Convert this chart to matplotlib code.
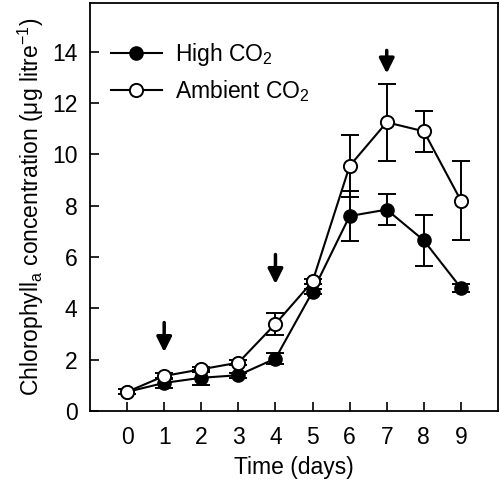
import matplotlib
matplotlib.use("Agg")
import matplotlib.pyplot as plt

plt.rcParams['font.family'] = ['Liberation Sans', 'DejaVu Sans']
plt.rcParams['mathtext.fontset'] = 'custom'
plt.rcParams['mathtext.rm'] = 'Liberation Sans'
plt.rcParams['mathtext.it'] = 'Liberation Sans'

days = [0, 1, 2, 3, 4, 5, 6, 7, 8, 9]
high_co2 = [0.75, 1.1, 1.3, 1.4, 2.05, 4.65, 7.6, 7.85, 6.65, 4.8]
high_err = [0.1, 0.2, 0.3, 0.1, 0.2, 0.1, 0.97, 0.6, 1.0, 0.15]
amb_co2 = [0.75, 1.37, 1.63, 1.89, 3.4, 5.05, 9.55, 11.25, 10.9, 8.2]
amb_err = [0.1, 0.1, 0.1, 0.1, 0.43, 0.1, 1.22, 1.5, 0.8, 1.55]
arrow_days = [1, 4, 7]
arrow_top = [3.45, 6.1, 14.05]
arrow_bottom = [2.3, 4.95, 13.15]

fig = plt.figure(figsize=(5.0, 4.86), dpi=100)
ax = fig.add_axes([0.18, 0.154, 0.816, 0.84])

ax.errorbar(days, high_co2, yerr=high_err, fmt='o-', color='black', mfc='black',
            mec='black', ms=9.5, lw=1.5, elinewidth=1.4, capsize=6.5, capthick=1.4,
            label='High CO$_2$', zorder=3)
ax.errorbar(days, amb_co2, yerr=amb_err, fmt='o-', color='black', mfc='white',
            mec='black', mew=1.4, ms=9.5, lw=1.5, elinewidth=1.4, capsize=6.5, capthick=1.4,
            label='Ambient CO$_2$', zorder=4)

for d, t, b in zip(arrow_days, arrow_top, arrow_bottom):
    ax.annotate('', xy=(d, b), xytext=(d, t),
                arrowprops=dict(arrowstyle='-|>,head_width=0.45,head_length=0.9',
                                color='black', lw=2.5, shrinkA=0, shrinkB=0))

ax.set_xlim(-1, 10)
ax.set_ylim(0, 15.9)
ax.set_xticks(days)
ax.set_yticks([0, 2, 4, 6, 8, 10, 12, 14])
ax.tick_params(direction='in', length=6.5, width=1.2, labelsize=16.5, top=False, right=False)
ax.tick_params(axis='x', pad=11)
ax.tick_params(axis='y', pad=9)
for s in ax.spines.values():
    s.set_linewidth(1.3)

ax.set_xlabel('Time (days)', fontsize=16.5, labelpad=5)
ax.set_ylabel('Chlorophyll$_{a}$ concentration ($\\mu$g litre$^{-1}$)', fontsize=16.5, labelpad=4)

handles, labels = ax.get_legend_handles_labels()
handles = [h[0] for h in handles]
ax.legend(handles, labels, loc='upper left', frameon=False, fontsize=16.5,
          handlelength=2.2, handletextpad=0.6, borderaxespad=0.2,
          bbox_to_anchor=(0.018, 0.94), labelspacing=0.45)

fig.savefig('out.png', dpi=100)
